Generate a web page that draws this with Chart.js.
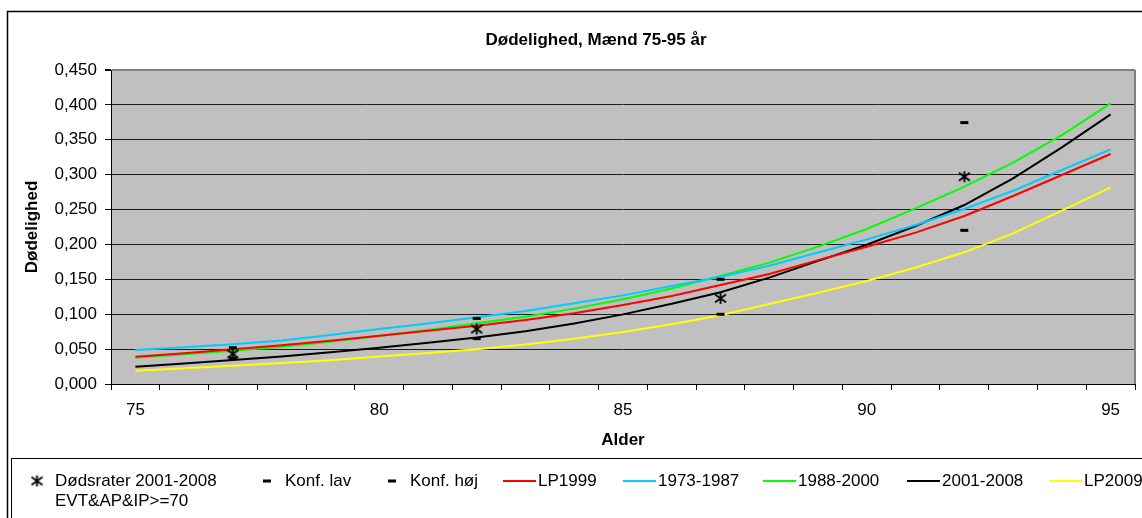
<!DOCTYPE html>
<html>
<head>
<meta charset="utf-8">
<script src="https://cdn.jsdelivr.net/npm/chart.js@4.4.1/dist/chart.umd.min.js"></script>
<style>
  body { margin: 0; background: #fff; }
</style>
</head>
<body>
<canvas id="chart" width="1142" height="518"></canvas>
<script>
/* ===== Data ===== */
const chartTitle = 'Dødelighed, Mænd 75-95 år';
const ages = [75, 76, 77, 78, 79, 80, 81, 82, 83, 84, 85, 86, 87, 88, 89, 90, 91, 92, 93, 94, 95];

// smoothed curves, one value per age
const lp1999 = [0.039, 0.0442, 0.0497, 0.0555, 0.062, 0.0693, 0.0763, 0.0836, 0.0917, 0.1013, 0.1132,
  0.1261, 0.1419, 0.1577, 0.1775, 0.1968, 0.2169, 0.2408, 0.2694, 0.2995, 0.3296];
const per7387 = [0.0487, 0.0527, 0.0569, 0.0625, 0.0702, 0.0788, 0.0868, 0.0955, 0.1046, 0.1156, 0.127,
  0.1404, 0.1538, 0.1696, 0.1885, 0.2073, 0.2279, 0.2508, 0.277, 0.3067, 0.3363];
const per8800 = [0.0377, 0.0425, 0.0478, 0.0535, 0.0605, 0.0688, 0.0775, 0.087, 0.0965, 0.108, 0.1214,
  0.137, 0.1548, 0.1739, 0.1968, 0.2221, 0.2518, 0.2828, 0.3172, 0.3568, 0.4022];
const per0108 = [0.0248, 0.0294, 0.0344, 0.0395, 0.0455, 0.052, 0.059, 0.0665, 0.0755, 0.0866, 0.0998,
  0.115, 0.1314, 0.1524, 0.1765, 0.1995, 0.2264, 0.2565, 0.2947, 0.3391, 0.3865];
const lp2009 = [0.019, 0.0225, 0.0263, 0.03, 0.0342, 0.0395, 0.0443, 0.0497, 0.0565, 0.065, 0.0745,
  0.0855, 0.0985, 0.1147, 0.1309, 0.1476, 0.167, 0.1887, 0.2159, 0.2484, 0.2819];

// observed rates with confidence limits
const obsAges = [77, 82, 87, 92];
const dodsrater = [0.043, 0.0788, 0.1228, 0.2971];
const konfLav = [0.0368, 0.065, 0.0999, 0.2202];
const konfHoj = [0.052, 0.094, 0.150, 0.3746];

const seriesNames = ['Dødsrater 2001-2008\nEVT&AP&IP>=70', 'Konf. lav', 'Konf. høj',
  'LP1999', '1973-1987', '1988-2000', '2001-2008', 'LP2009'];

/* ===== Helpers ===== */
function atAges(values) {
  return ages.map(a => {
    const i = obsAges.indexOf(a);
    return i < 0 ? null : values[i];
  });
}

function starMarker() {
  const c = document.createElement('canvas');
  c.width = 13; c.height = 13;
  const g = c.getContext('2d');
  g.strokeStyle = '#000';
  g.lineWidth = 1.8;
  g.beginPath();
  g.moveTo(1, 2.5); g.lineTo(12, 10.5);
  g.moveTo(12, 2.5); g.lineTo(1, 10.5);
  g.moveTo(6.5, 1); g.lineTo(6.5, 12);
  g.stroke();
  return c;
}
const star = starMarker();

function pointSet(label, values, style) {
  return {
    label, data: atAges(values), showLine: false,
    pointStyle: style, pointRadius: style === 'line' ? 4 : 6,
    pointBorderWidth: style === 'line' ? 3 : 1,
    borderColor: '#000', backgroundColor: '#000'
  };
}
function lineSet(label, values, color) {
  return {
    label, data: values, borderColor: color, backgroundColor: color,
    borderWidth: 2, pointRadius: 0, tension: 0
  };
}

/* ===== Excel-like frame, title and legend ===== */
const legendSlots = [20, 250, 375, 503, 623, 763, 907, 1049];

const frame = {
  id: 'frame',
  beforeDraw(chart) {
    const { ctx, chartArea: a } = chart;
    ctx.save();
    ctx.fillStyle = '#fff';
    ctx.fillRect(0, 0, chart.width, chart.height);
    ctx.strokeStyle = '#000';
    ctx.lineWidth = 1.5;
    ctx.strokeRect(7.5, 11.5, 1300, 600);
    ctx.fillStyle = '#c0c0c0';
    ctx.fillRect(a.left, a.top, a.right - a.left, a.bottom - a.top);
    ctx.fillStyle = '#000';
    ctx.font = "bold 17px 'Liberation Sans', Arial, sans-serif";
    ctx.textAlign = 'center';
    ctx.textBaseline = 'middle';
    ctx.fillText(chartTitle, 596, 40);
    ctx.restore();
  },
  beforeDatasetsDraw(chart) {
    const { ctx, chartArea: a } = chart;
    ctx.save();
    ctx.strokeStyle = '#808080';
    ctx.lineWidth = 2;
    ctx.beginPath();
    ctx.moveTo(a.right, a.top);
    ctx.lineTo(a.right, a.bottom);
    ctx.stroke();
    ctx.restore();
  },
  afterDraw(chart) {
    const ctx = chart.ctx;
    ctx.save();
    ctx.strokeStyle = '#000';
    ctx.lineWidth = 1;
    ctx.strokeRect(11.5, 458.5, 1300, 100);
    ctx.font = "17px 'Liberation Sans', Arial, sans-serif";
    ctx.textBaseline = 'middle';
    ctx.textAlign = 'left';
    const y = 481;
    chart.data.datasets.forEach((ds, i) => {
      const x = legendSlots[i];
      if (ds.showLine === false) {
        if (ds.pointStyle === 'line') {
          ctx.fillStyle = '#000';
          ctx.fillRect(x + 13, y - 1.5, 8, 3);
        } else {
          ctx.drawImage(star, x + 17 - 6.5, y - 6.5);
        }
      } else {
        ctx.strokeStyle = ds.borderColor;
        ctx.lineWidth = 2;
        ctx.beginPath();
        ctx.moveTo(x, y);
        ctx.lineTo(x + 33, y);
        ctx.stroke();
      }
      ctx.fillStyle = '#000';
      ds.label.split('\n').forEach((line, k) => ctx.fillText(line, x + 35, y + k * 20));
    });
    ctx.restore();
  }
};

/* ===== Chart ===== */
Chart.defaults.font.family = "'Liberation Sans', Arial, sans-serif";
Chart.defaults.color = '#000';

new Chart(document.getElementById('chart'), {
  type: 'line',
  data: {
    labels: ages.map(String),
    datasets: [
      pointSet(seriesNames[0], dodsrater, star),
      pointSet(seriesNames[1], konfLav, 'line'),
      pointSet(seriesNames[2], konfHoj, 'line'),
      lineSet(seriesNames[3], lp1999, '#ff0000'),
      lineSet(seriesNames[4], per7387, '#00ccff'),
      lineSet(seriesNames[5], per8800, '#00ff00'),
      lineSet(seriesNames[6], per0108, '#000000'),
      lineSet(seriesNames[7], lp2009, '#ffff00')
    ]
  },
  options: {
    responsive: false,
    animation: false,
    events: [],
    layout: { padding: { left: 12, right: 2, top: 70, bottom: 66 } },
    plugins: { legend: { display: false }, tooltip: { enabled: false } },
    scales: {
      x: {
        offset: true,
        grid: { offset: true, drawOnChartArea: false, tickLength: 6, tickColor: '#000', color: '#000' },
        border: { display: true, color: '#000', width: 1 },
        ticks: {
          autoSkip: false, maxRotation: 0, padding: 10, font: { size: 17 },
          callback: function (v, i) { return i % 5 === 0 ? this.getLabelForValue(v) : ''; }
        },
        title: { display: true, text: 'Alder', font: { size: 17, weight: 'bold' }, padding: { top: 0, bottom: 1 } },
        afterFit: s => { s.height = 68; }
      },
      y: {
        min: 0, max: 0.45,
        ticks: { stepSize: 0.05, padding: 8, font: { size: 17 }, callback: v => v.toFixed(3).replace('.', ',') },
        grid: {
          color: c => c.index === 9 ? '#808080' : '#1e1e1e',
          lineWidth: c => c.index === 9 ? 2 : 1,
          tickLength: 6, tickColor: '#000'
        },
        border: { display: true, color: '#000', width: 1 },
        title: { display: true, text: 'Dødelighed', font: { size: 17, weight: 'bold' }, padding: { top: 10, bottom: 0 } },
        afterFit: s => { s.width = 99; }
      }
    }
  },
  plugins: [frame]
});
</script>
</body>
</html>
